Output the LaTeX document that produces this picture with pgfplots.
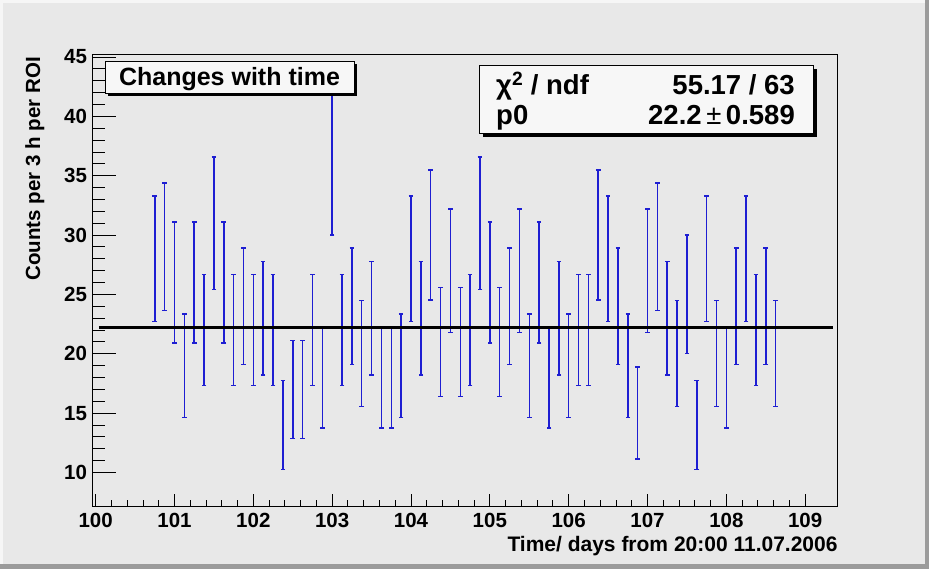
\documentclass[border=0pt]{standalone}
\usepackage{fontspec}
\setmainfont{Liberation Sans}
\usepackage{pgfplots}
\pgfplotsset{compat=1.18}
\usepackage{pgfplotstable}

\definecolor{canvas}{RGB}{232,232,232}
\definecolor{bevel}{RGB}{155,155,155}
\definecolor{errblue}{RGB}{30,30,210}
\definecolor{boxfill}{RGB}{247,247,247}

% counts per 3 h bin, error = sqrt(n)
\pgfplotstableread{
t       n   err
100.750 28 5.292
100.875 29 5.385
101.000 26 5.099
101.125 19 4.359
101.250 26 5.099
101.375 22 4.690
101.500 31 5.568
101.625 26 5.099
101.750 22 4.690
101.875 24 4.899
102.000 22 4.690
102.125 23 4.796
102.250 22 4.690
102.375 14 3.742
102.500 17 4.123
102.625 17 4.123
102.750 22 4.690
102.875 18 4.243
103.000 36 6.000
103.125 22 4.690
103.250 24 4.899
103.375 20 4.472
103.500 23 4.796
103.625 18 4.243
103.750 18 4.243
103.875 19 4.359
104.000 28 5.292
104.125 23 4.796
104.250 30 5.477
104.375 21 4.583
104.500 27 5.196
104.625 21 4.583
104.750 22 4.690
104.875 31 5.568
105.000 26 5.099
105.125 21 4.583
105.250 24 4.899
105.375 27 5.196
105.500 19 4.359
105.625 26 5.099
105.750 18 4.243
105.875 23 4.796
106.000 19 4.359
106.125 22 4.690
106.250 22 4.690
106.375 30 5.477
106.500 28 5.292
106.625 24 4.899
106.750 19 4.359
106.875 15 3.873
107.000 27 5.196
107.125 29 5.385
107.250 23 4.796
107.375 20 4.472
107.500 25 5.000
107.625 14 3.742
107.750 28 5.292
107.875 20 4.472
108.000 18 4.243
108.125 24 4.899
108.250 28 5.292
108.375 22 4.690
108.500 24 4.899
108.625 20 4.472
}\counts

\begin{document}
\begin{tikzpicture}
\useasboundingbox (0,0) rectangle (929pt,569pt);
% canvas with bevel
\fill[canvas] (0,0) rectangle (929pt,569pt);
\fill[white!60!canvas] (0,0) rectangle (3pt,569pt);
\fill[white!60!canvas] (0,566pt) rectangle (929pt,569pt);
\fill[bevel] (0,0) rectangle (929pt,5pt);
\fill[bevel] (925pt,0) rectangle (929pt,569pt);

\begin{axis}[
    at={(92.7pt,62pt)}, anchor=south west,
    scale only axis, width=745pt, height=452pt,
    xmin=99.9625, xmax=109.4125,
    ymin=7.09, ymax=45.17,
    axis background/.style={fill=canvas},
    axis line style={black, line width=1pt},
    tick align=inside,
    xtick pos=left, ytick pos=left,
    xtick={100,101,...,109},
    ytick={10,15,...,45},
    minor x tick num=4, minor y tick num=4,
    tick style={black, line width=0.9pt},
    xtick style={/pgfplots/major tick length=13pt, /pgfplots/minor tick length=6.5pt},
    ytick style={/pgfplots/major tick length=23pt, /pgfplots/minor tick length=12pt},
    /pgf/number format/assume math mode=true,
    ticklabel style={font=\fontsize{20.5}{21}\selectfont\bfseries, inner sep=0pt},
    xticklabel style={yshift=-6pt},
    yticklabel style={xshift=-5.5pt},
]
\addplot[color=errblue, draw=none, mark=none,
    error bars/.cd, y dir=both, y explicit,
    error mark=-,
    error bar style={draw=errblue, line width=1.5pt},
    error mark options={rotate=90, draw=errblue, line width=1.3pt, mark size=2.3pt}]
    table[x=t, y=n, y error=err] {\counts};
% fit p0 = 22.2
\addplot[black, line width=3.5pt] coordinates {(100.04,22.2) (109.35,22.2)};
\end{axis}

% axis titles
\node[rotate=90, anchor=north east, inner sep=0pt,
      font=\fontsize{20.5}{21}\selectfont\bfseries] at (25pt,512pt) {Counts per 3 h per ROI};
\node[anchor=north east, inner sep=0pt,
      font=\fontsize{21}{22}\selectfont\bfseries] at (837.7pt,33pt) {Time/ days from 20:00 11.07.2006};

% title box
\fill[black] (107.5pt,473pt) rectangle (356.8pt,504.8pt);
\draw[fill=boxfill, line width=1pt] (105pt,475.7pt) rectangle (354.3pt,507.3pt);
\node[anchor=base, inner sep=0pt, font=\fontsize{25}{26}\selectfont\bfseries]
    at (229.5pt,483pt) {Changes with time};

% stats box
\fill[black] (482.7pt,432.3pt) rectangle (816.7pt,500pt);
\draw[fill=boxfill, line width=1pt] (479.3pt,435.7pt) rectangle (813.3pt,503.3pt);
\begin{scope}[every node/.style={inner sep=0pt, font=\fontsize{27.5}{28}\selectfont\bfseries}]
\node[anchor=base west] at (496pt,474.7pt) {χ\textsuperscript{2} / ndf};
\node[anchor=base east] at (795pt,474.7pt) {55.17 / 63};
\node[anchor=base west] at (496pt,444pt) {p0};
\node[anchor=base east] at (795pt,444pt) {22.2\,{\mdseries ±}\,0.589};
\end{scope}
\end{tikzpicture}
\end{document}
